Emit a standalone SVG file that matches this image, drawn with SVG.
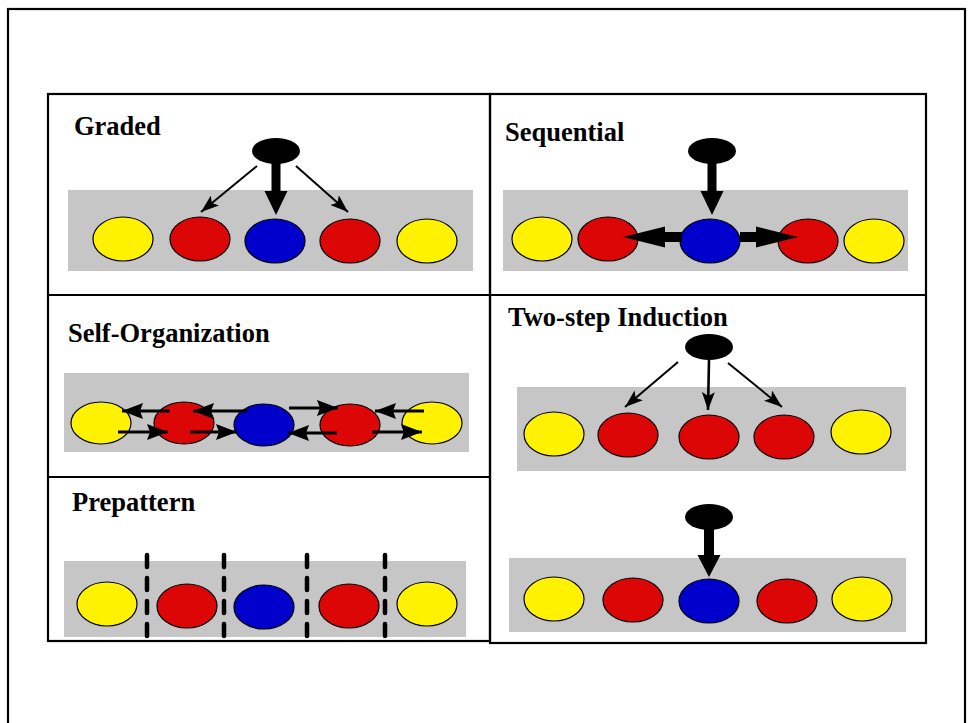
<svg xmlns="http://www.w3.org/2000/svg" width="969" height="723" viewBox="0 0 969 723">
  <style>
    .frame { fill: none; stroke: #000; stroke-width: 2.2; }
    .band { fill: #c6c6c6; }
    .cell { stroke: #000; stroke-width: 1.2; }
    .y { fill: #fff200; }
    .r { fill: #dd0606; }
    .b { fill: #0000cc; }
    .src { fill: #000; }
    .title { font-family: "Liberation Serif", "Times New Roman", serif; font-weight: bold; font-size: 26.5px; fill: #000; }
    .thin { stroke: #000; stroke-width: 2; fill: none; marker-end: url(#head); }
    .mid { stroke: #000; stroke-width: 3; fill: none; marker-end: url(#headS); }
    .thick { fill: #000; }
    .dash { stroke: #000; stroke-width: 4.5; stroke-dasharray: 12 11; stroke-linecap: round; }
  </style>
  <defs>
    <marker id="head" markerUnits="userSpaceOnUse" markerWidth="19" markerHeight="13" refX="18" refY="6.5" orient="auto">
      <path d="M0,0 L18,6.5 L0,13 L4,6.5 Z" fill="#000"/>
    </marker>
    <marker id="headS" markerUnits="userSpaceOnUse" markerWidth="22" markerHeight="16" refX="21" refY="8" orient="auto">
      <path d="M0,0 L21,8 L0,16 L3,8 Z" fill="#000"/>
    </marker>
  </defs>

  <rect x="0" y="0" width="969" height="723" fill="#fff"/>

  <!-- outer page frame -->
  <rect class="frame" x="8" y="9" width="957" height="730"/>

  <!-- panel grid -->
  <g id="grid">
    <rect class="frame" x="48" y="94" width="442" height="547"/>
    <rect class="frame" x="490" y="94" width="436" height="549"/>
    <line class="frame" x1="48" y1="295" x2="926" y2="295"/>
    <line class="frame" x1="48" y1="477" x2="490" y2="477"/>
  </g>

  <!-- Graded -->
  <g id="graded">
    <text class="title" x="74" y="135">Graded</text>
    <rect class="band" x="68" y="190" width="405" height="81"/>
    <ellipse class="cell y" cx="123" cy="239" rx="30" ry="22"/>
    <ellipse class="cell r" cx="200" cy="239" rx="30" ry="22"/>
    <ellipse class="cell b" cx="275" cy="241" rx="30" ry="22"/>
    <ellipse class="cell r" cx="350" cy="241" rx="30" ry="22"/>
    <ellipse class="cell y" cx="427" cy="241" rx="30" ry="22"/>
    <ellipse class="src" cx="276" cy="151" rx="24" ry="13"/>
  </g>

  <!-- Sequential -->
  <g id="sequential">
    <text class="title" x="505" y="141">Sequential</text>
    <rect class="band" x="503" y="190" width="405" height="81"/>
    <ellipse class="cell y" cx="542" cy="239" rx="30" ry="22"/>
    <ellipse class="cell r" cx="608" cy="239" rx="30" ry="22"/>
    <ellipse class="cell b" cx="710" cy="241" rx="30" ry="22"/>
    <ellipse class="cell r" cx="808" cy="241" rx="30" ry="22"/>
    <ellipse class="cell y" cx="874" cy="241" rx="30" ry="22"/>
    <ellipse class="src" cx="712" cy="151" rx="24" ry="13"/>
  </g>

  <!-- Self-Organization -->
  <g id="self-organization">
    <text class="title" x="68" y="342">Self-Organization</text>
    <rect class="band" x="64" y="373" width="405" height="79"/>
    <ellipse class="cell y" cx="101" cy="423" rx="30" ry="21"/>
    <ellipse class="cell r" cx="184" cy="423" rx="30" ry="21"/>
    <ellipse class="cell b" cx="264" cy="425" rx="30" ry="21"/>
    <ellipse class="cell r" cx="350" cy="425" rx="30" ry="21"/>
    <ellipse class="cell y" cx="432" cy="423" rx="30" ry="21"/>
  </g>

  <!-- Prepattern -->
  <g id="prepattern">
    <text class="title" x="72" y="511">Prepattern</text>
    <rect class="band" x="64" y="561" width="402" height="76"/>
    <ellipse class="cell y" cx="107" cy="604" rx="30" ry="22"/>
    <ellipse class="cell r" cx="187" cy="606" rx="30" ry="22"/>
    <ellipse class="cell b" cx="264" cy="607" rx="30" ry="22"/>
    <ellipse class="cell r" cx="349" cy="606" rx="30" ry="22"/>
    <ellipse class="cell y" cx="427" cy="604" rx="30" ry="22"/>
    <line class="dash" x1="147" y1="555" x2="147" y2="638"/>
    <line class="dash" x1="224" y1="555" x2="224" y2="638"/>
    <line class="dash" x1="307" y1="555" x2="307" y2="638"/>
    <line class="dash" x1="385" y1="555" x2="385" y2="638"/>
  </g>

  <!-- Two-step Induction -->
  <g id="two-step-induction">
    <text class="title" x="508" y="326">Two-step Induction</text>
    <ellipse class="src" cx="709" cy="347" rx="24" ry="13"/>
    <rect class="band" x="517" y="387" width="389" height="84"/>
    <ellipse class="cell y" cx="554" cy="434" rx="30" ry="22"/>
    <ellipse class="cell r" cx="628" cy="435" rx="30" ry="22"/>
    <ellipse class="cell r" cx="709" cy="437" rx="30" ry="22"/>
    <ellipse class="cell r" cx="784" cy="437" rx="30" ry="22"/>
    <ellipse class="cell y" cx="861" cy="432" rx="30" ry="22"/>
    <ellipse class="src" cx="709" cy="517" rx="24" ry="13"/>
    <rect class="band" x="509" y="558" width="397" height="74"/>
    <ellipse class="cell y" cx="554" cy="599" rx="30" ry="22"/>
    <ellipse class="cell r" cx="633" cy="600" rx="30" ry="22"/>
    <ellipse class="cell b" cx="709" cy="601" rx="30" ry="22"/>
    <ellipse class="cell r" cx="787" cy="601" rx="30" ry="22"/>
    <ellipse class="cell y" cx="862" cy="599" rx="30" ry="22"/>
  </g>

  <!-- connectors -->
  <g id="connectors">
    <!-- Graded -->
    <line class="thin" x1="257" y1="166" x2="201" y2="212"/>
    <line class="thin" x1="296" y1="166" x2="348" y2="212"/>
    <path class="thick" d="M271.5,160 H280.5 V191 H287.5 L276,215 L264.5,191 H271.5 Z"/>
    <!-- Sequential -->
    <path class="thick" d="M707.5,160 H716.5 V191 H723.5 L712,215 L700.5,191 H707.5 Z"/>
    <path class="thick" d="M682,232 V242 H665 V247.5 L623,237 L665,226.5 V232 Z"/>
    <path class="thick" d="M740,232 V242 H756 V247.5 L798,237 L756,226.5 V232 Z"/>
    <!-- Self-Organization: upper row -->
    <line class="mid" x1="170" y1="411" x2="122" y2="411"/>
    <line class="mid" x1="247" y1="411" x2="193" y2="411"/>
    <line class="mid" x1="289" y1="408" x2="338" y2="408"/>
    <line class="mid" x1="424" y1="411" x2="375" y2="411"/>
    <!-- Self-Organization: lower row -->
    <line class="mid" x1="118" y1="432" x2="168" y2="432"/>
    <line class="mid" x1="190" y1="432" x2="237" y2="432"/>
    <line class="mid" x1="337" y1="433" x2="288" y2="433"/>
    <line class="mid" x1="372" y1="432" x2="422" y2="432"/>
    <!-- Two-step Induction: first step -->
    <line class="thin" x1="678" y1="362" x2="625" y2="407"/>
    <line class="thin" x1="709" y1="360" x2="708" y2="410" style="stroke-width:2.6"/>
    <line class="thin" x1="728" y1="363" x2="782" y2="407"/>
    <!-- Two-step Induction: second step -->
    <path class="thick" d="M704,528 H714 V555 H720.5 L709,577 L697.5,555 H704 Z"/>
  </g>
</svg>
